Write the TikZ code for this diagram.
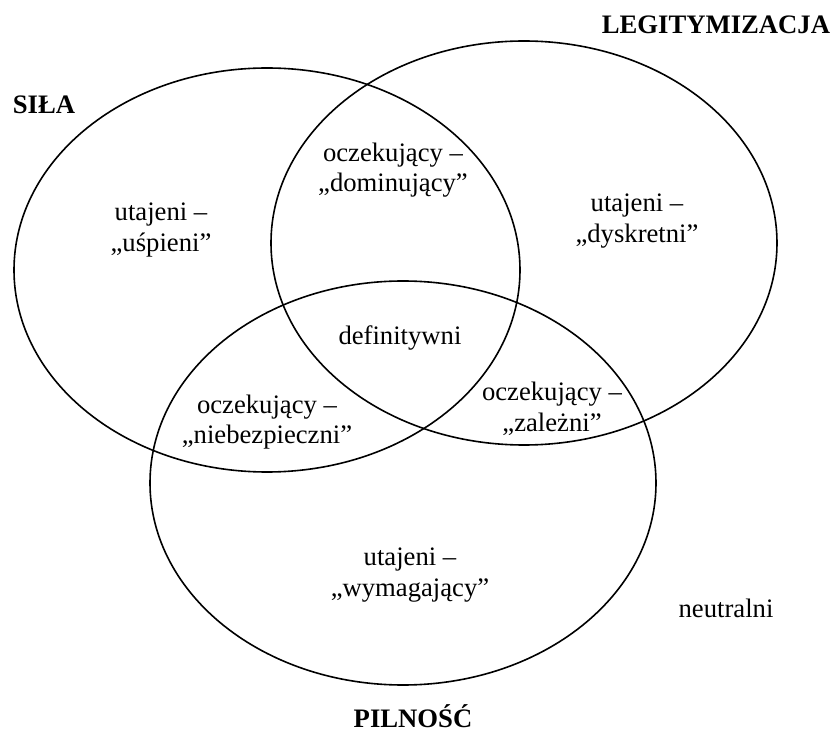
\documentclass[tikz,border=0pt]{standalone}
\usepackage{fontspec}
\setmainfont{Liberation Serif}
\usetikzlibrary{shapes.geometric}

\begin{document}
\begin{tikzpicture}[
  x=0.75pt, y=-0.75pt,
  venn/.style={draw, ellipse, line width=1.2pt, minimum width=379.5pt, minimum height=303pt, inner sep=0pt},
  group/.style={align=center, font=\fontsize{20}{23}\selectfont},
  attr/.style={font=\fontsize{20}{23}\selectfont\bfseries}
]
\useasboundingbox (0,0) rectangle (833,734);

\node[venn] (sila) at (267,270) {};
\node[venn] (legit) at (524,243) {};
\node[venn] (piln) at (403,483) {};

\node[attr] (lsila) at (44,105) {SIŁA};
\node[attr] (llegit) at (716,25) {LEGITYMIZACJA};
\node[attr, anchor=base] (lpiln) at (413,727) {PILNOŚĆ};

\node[group] (uspieni) at (161,230) {utajeni –\\„uśpieni”};
\node[group] (dominujacy) at (393,170) {oczekujący –\\„dominujący”};
\node[group] (dyskretni) at (637,221) {utajeni –\\„dyskretni”};
\node[group] (definitywni) at (400,338) {definitywni};
\node[group] (niebezpieczni) at (267,422) {oczekujący –\\„niebezpieczni”};
\node[group] (zalezni) at (552,409) {oczekujący –\\„zależni”};
\node[group] (wymagajacy) at (410,575) {utajeni –\\„wymagający”};
\node[group] (neutralni) at (726,608) {neutralni};
\end{tikzpicture}
\end{document}
